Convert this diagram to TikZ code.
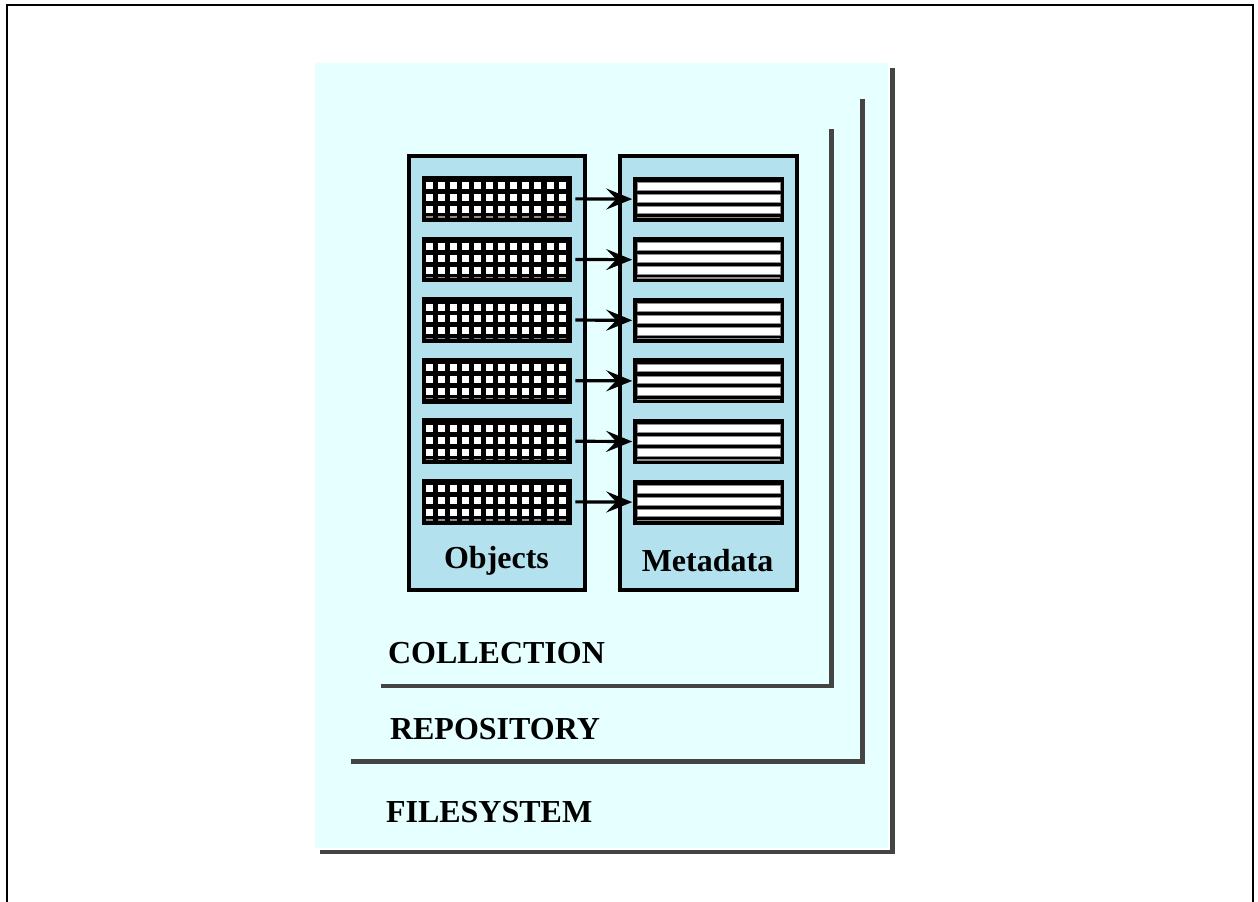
\documentclass[tikz,border=0pt]{standalone}
\usepackage{fontspec}
\setmainfont{Liberation Serif}
\usetikzlibrary{arrows.meta}

\definecolor{panelcyan}{HTML}{E6FFFF}
\definecolor{boxblue}{HTML}{B4E1EE}
\definecolor{shadowgray}{HTML}{444444}
\definecolor{edgegray}{HTML}{8C8C8C}

\tikzset{
  panel/.style={fill=panelcyan, draw=none, inner sep=0pt, outer sep=0pt, anchor=north west},
  layer/.style={draw=none, fill=none, inner sep=0pt, outer sep=0pt, anchor=north west},
  shadowline/.style={draw=shadowgray, line width=4.6pt, line cap=butt, line join=miter},
  column/.style={draw=black, fill=boxblue, line width=4pt, inner sep=0pt, outer sep=0pt,
    anchor=north west, minimum height=433.7pt},
  objbar/.style={fill=black, draw=none, inner sep=0pt, outer sep=0pt, anchor=north west,
    minimum width=150.6pt, minimum height=45.7pt},
  metabar/.style={fill=black, draw=none, inner sep=0pt, outer sep=0pt, anchor=north west,
    minimum width=151.3pt, minimum height=45pt},
  cell/.style={fill=white},
  stripe/.style={fill=white, draw=edgegray, line width=0.7pt},
  link/.style={draw=black, line width=3.2pt,
    -{Stealth[length=26pt, width=21pt, inset=10pt]}, shorten <=3pt, shorten >=0.5pt},
  title/.style={font=\bfseries\fontsize{32}{38}\selectfont, inner sep=0pt, outer sep=0pt},
}

\begin{document}
\begin{tikzpicture}[x=1pt, y=-1pt]
  \useasboundingbox (0,0) rectangle (1258,902);
  \fill[white] (0,0) rectangle (1258,902);

  % page frame, open at the bottom
  \draw[black, line width=1.8pt] (6.7,902) -- (6.7,4.7) -- (1253.3,4.7) -- (1253.3,902);

  % filesystem panel with its drop shadow
  \node[panel, minimum width=573pt, minimum height=785pt] (fs) at (315,63) {};
  \draw[shadowline] ([shift={(5,3.8)}]fs.south west) -- ([shift={(4.7,3.8)}]fs.south east)
                    -- ([shift={(4.7,5)}]fs.north east);

  % repository and collection outlines (right and bottom edges only)
  \node[layer, minimum width=511.3pt, minimum height=663pt] (repo) at (351,98.7) {};
  \draw[shadowline] (repo.south west) -- (repo.south east) -- (repo.north east);

  \node[layer, minimum width=450.7pt, minimum height=557pt] (coll) at (381,129) {};
  \draw[shadowline] (coll.south west) -- (coll.south east) -- (coll.north east);

  % object and metadata columns
  \node[column, minimum width=176pt] (objcol) at (408.7,156) {};
  \node[column, minimum width=176.7pt] (metacol) at (620.3,156) {};

  \foreach \i in {1,...,6} {
    \pgfmathsetmacro\ytop{176+60.6*(\i-1)}
    % object record: black bar with a grid of white cells
    \node[objbar] (o\i) at (421.7,\ytop) {};
    \foreach \c in {0,...,11} {
      \foreach \r in {0,1,2} {
        \fill[cell] ([shift={(4.3+12.05*\c,6.3+11.9*\r)}]o\i.north west) rectangle ++(7,7);
      }
      \fill[edgegray] ([shift={(4.3+12.05*\c,40.4)}]o\i.north west) rectangle ++(7,1.2);
    }
    % metadata record: black bar with white stripes
    \node[metabar] (m\i) at (632.7,\ytop+0.6) {};
    \foreach \r in {0,1,2} {
      \filldraw[stripe] ([shift={(4.6,5.6+11.9*\r)}]m\i.north west) rectangle ++(142.7,7.8);
    }
    \fill[edgegray] ([shift={(4.6,40.2)}]m\i.north west) rectangle ++(142.7,1.3);
    % link from object to its metadata
    \draw[link] (o\i.east) -- (m\i.west);
  }

  % labels
  \node[title, anchor=base] (objlbl) at (496.5,568) {Objects};
  \node[title, anchor=base] (metalbl) at (707.5,571) {Metadata};
  \node[title, anchor=base west] (colllbl) at (388,663) {COLLECTION};
  \node[title, anchor=base west] (repolbl) at (390,739) {REPOSITORY};
  \node[title, anchor=base west] (fslbl) at (386,822) {FILESYSTEM};
\end{tikzpicture}
\end{document}
